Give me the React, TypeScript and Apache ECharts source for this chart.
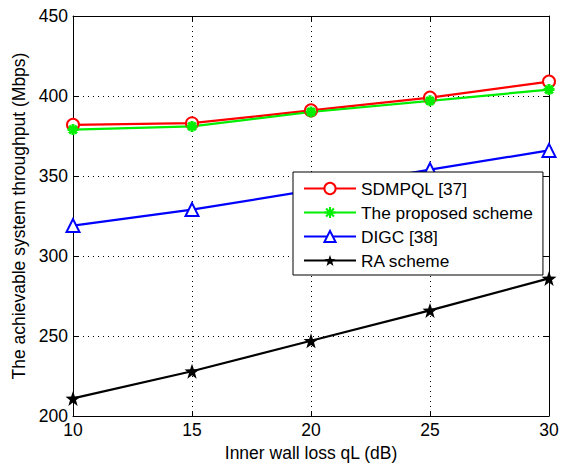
import React, { useEffect, useRef } from "react";
import * as echarts from "echarts";

const categories = [10, 15, 20, 25, 30];
const sdmpql = [382, 383, 391, 399, 409];
const proposed = [379, 381, 390, 397, 404];
const digc = [319, 329, 341, 354, 366];
const ra = [211, 228, 247, 266, 286];
const seriesNames = ["SDMPQL [37]", "The proposed scheme", "DIGC [38]", "RA scheme"];

const STAR =
  "path://M0,-10L2.35,-3.24L9.51,-3.09L3.8,1.24L5.88,8.09L0,4L-5.88,8.09L-3.8,1.24L-9.51,-3.09L-2.35,-3.24Z";
const ASTER =
  "path://M0,-5L0,5M-5,0L5,0M-3.5,-3.5L3.5,3.5M-3.5,3.5L3.5,-3.5";

const FONT = "'Liberation Sans', Arial, sans-serif";

export default function App() {
  const ref = useRef<HTMLDivElement>(null);
  useEffect(() => {
    document.body.style.margin = "0";
    const chart = echarts.init(ref.current!, null, { renderer: "svg" });
    const pairs = (vals: number[]) => categories.map((c, i) => [c, vals[i]]);
    const tickAxisCommon = {
      axisLine: { show: true, lineStyle: { color: "#000", width: 1 } },
      axisTick: { show: true, inside: true, length: 5, lineStyle: { color: "#000" } },
    };
    chart.setOption({
      animation: false,
      backgroundColor: "#fff",
      textStyle: { fontFamily: FONT },
      grid: {
        left: 73,
        right: 19,
        top: 16,
        bottom: 47,
        show: false,
        containLabel: false,
        outerBoundsMode: "none",
      },
      xAxis: [
        {
          type: "value",
          min: 10,
          max: 30,
          interval: 5,
          name: "Inner wall loss qL (dB)",
          nameLocation: "middle",
          nameGap: 23,
          nameTextStyle: { fontSize: 17.5, color: "#000", fontFamily: FONT },
          ...tickAxisCommon,
          axisLabel: { fontSize: 17.5, color: "#000", margin: 5, fontFamily: FONT },
          splitLine: { show: true, lineStyle: { color: "#000", type: [1, 4], width: 1 } },
        },
        {
          type: "value",
          position: "top",
          min: 10,
          max: 30,
          interval: 5,
          ...tickAxisCommon,
          axisLabel: { show: false },
          splitLine: { show: false },
        },
      ],
      yAxis: [
        {
          type: "value",
          min: 200,
          max: 450,
          interval: 50,
          name: "The achievable system throughput (Mbps)",
          nameLocation: "middle",
          nameGap: 38,
          nameTextStyle: { fontSize: 17.5, color: "#000", fontFamily: FONT },
          ...tickAxisCommon,
          axisLabel: { fontSize: 17.5, color: "#000", margin: 5, fontFamily: FONT },
          splitLine: { show: true, lineStyle: { color: "#000", type: [1, 4], width: 1 } },
        },
        {
          type: "value",
          position: "right",
          min: 200,
          max: 450,
          interval: 50,
          ...tickAxisCommon,
          axisLabel: { show: false },
          splitLine: { show: false },
        },
      ],
      legend: {
        left: 293,
        top: 172,
        orient: "vertical",
        width: 244,
        itemWidth: 52,
        itemHeight: 14,
        itemGap: 7,
        padding: [8, 10, 6, 10],
        borderColor: "#000",
        borderWidth: 1,
        backgroundColor: "#fff",
        textStyle: { fontSize: 17.3, color: "#000", fontFamily: FONT },
        data: seriesNames,
      },
      series: [
        {
          name: seriesNames[0],
          type: "line",
          data: pairs(sdmpql),
          symbol: "emptyCircle",
          symbolSize: 12,
          color: "#ff0000",
          lineStyle: { width: 2.2, color: "#ff0000" },
          itemStyle: { color: "#ff0000", borderWidth: 2 },
        },
        {
          name: seriesNames[1],
          type: "line",
          data: pairs(proposed),
          symbol: ASTER,
          symbolSize: 11,
          color: "#00ee00",
          lineStyle: { width: 2.2, color: "#00ee00" },
          itemStyle: { color: "#00ee00", borderColor: "#00ee00", borderWidth: 3 },
        },
        {
          name: seriesNames[2],
          type: "line",
          data: pairs(digc),
          symbol: "emptyTriangle",
          symbolSize: 13,
          color: "#0000ff",
          lineStyle: { width: 2.2, color: "#0000ff" },
          itemStyle: { color: "#0000ff", borderWidth: 2 },
        },
        {
          name: seriesNames[3],
          type: "line",
          data: pairs(ra),
          symbol: STAR,
          symbolSize: 15,
          color: "#000",
          lineStyle: { width: 2.2, color: "#000" },
          itemStyle: { color: "#000" },
        },
      ],
    });
    return () => chart.dispose();
  }, []);
  return <div ref={ref} style={{ width: 568, height: 463 }} />;
}
